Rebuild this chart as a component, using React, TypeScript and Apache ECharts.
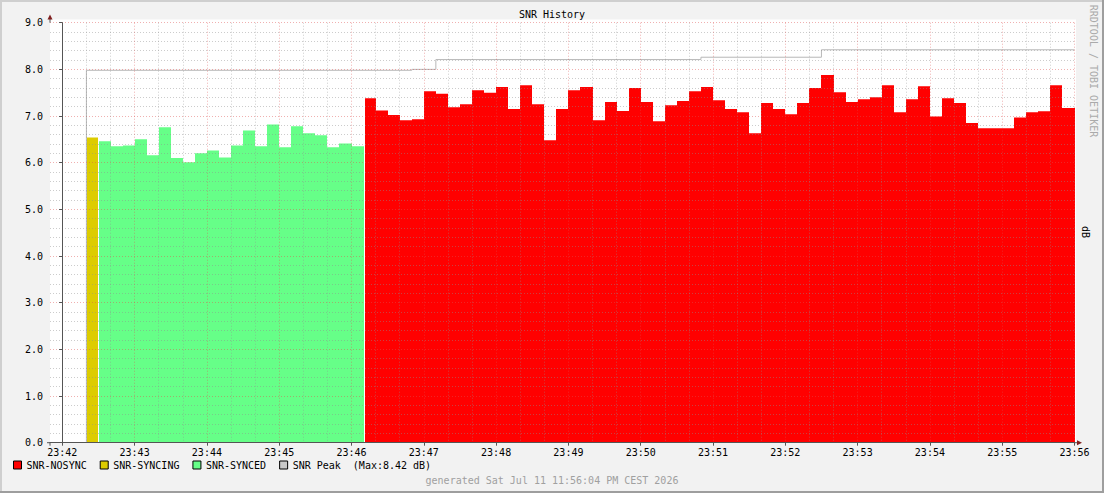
import { useEffect, useRef } from "react";
import * as echarts from "echarts";

// ---------- data ----------
const STEP = 10; // seconds per sample
const X_TICK_LABELS = [
  "23:42", "23:43", "23:44", "23:45", "23:46", "23:47", "23:48",
  "23:49", "23:50", "23:51", "23:52", "23:53", "23:54", "23:55", "23:56",
];
const Y_TICK_LABELS = ["0.0", "1.0", "2.0", "3.0", "4.0", "5.0", "6.0", "7.0", "8.0", "9.0"];

const SYNCING_START = "23:42:20";
const syncingValues = [6.54];

const SYNCED_START = "23:42:30";
const syncedValues = [
  6.46, 6.35, 6.37, 6.5, 6.16, 6.76, 6.1, 6.01, 6.2, 6.26, 6.11,
  6.37, 6.69, 6.35, 6.82, 6.33, 6.78, 6.63, 6.59, 6.33, 6.41, 6.35,
];

const NOSYNC_START = "23:46:10";
const nosyncValues = [
  7.38, 7.12, 7.02, 6.91, 6.93, 7.53, 7.48, 7.19, 7.25, 7.55,
  7.5, 7.62, 7.15, 7.66, 7.25, 6.48, 7.15, 7.55, 7.62, 6.91,
  7.3, 7.11, 7.6, 7.3, 6.89, 7.23, 7.32, 7.53, 7.62, 7.34,
  7.15, 7.08, 6.63, 7.28, 7.15, 7.04, 7.28, 7.6, 7.88, 7.51,
  7.3, 7.36, 7.4, 7.66, 7.08, 7.36, 7.64, 6.99, 7.38, 7.28,
  6.85, 6.74, 6.74, 6.74, 6.97, 7.08, 7.1, 7.66, 7.17,
];

const peakTimes = ["23:42:20", "23:46:50", "23:47:10", "23:50:50", "23:52:30", "23:56:00"];
const peakValues = [7.98, 8.0, 8.21, 8.26, 8.42, 8.42];

const GENERATED = "generated Sat Jul 11 11:56:04 PM CEST 2026";

// ---------- helpers ----------
const ORIGIN = X_TICK_LABELS[0] + ":00";
const toSec = (t: string) => {
  const p = t.split(":").map(Number);
  const o = ORIGIN.split(":").map(Number);
  return (p[0] * 3600 + p[1] * 60 + (p[2] || 0)) - (o[0] * 3600 + o[1] * 60 + (o[2] || 0));
};
const X_MAX = toSec(X_TICK_LABELS[X_TICK_LABELS.length - 1] + ":00");

const toSeries = (start: string, vals: number[]) =>
  vals.map((v, i) => [toSec(start) + i * STEP, v]);

const FONT = "DejaVu Sans Mono";
const C_NOSYNC = "#ff0000";
const C_SYNCING = "#ddcc00";
const C_SYNCED = "#66ff88";
const C_PEAK = "#b8b8b8";
const GRID_MINOR = "rgba(143,143,143,0.45)";
const GRID_MAJOR = "rgba(222,79,79,0.45)";
const AXIS = "#555";
const ARROW = "#801f1f";

const makeRender = (color: string) => (params: any, api: any) => {
  const t = api.value(0) as number;
  const v = api.value(1) as number;
  const a = api.coord([t, v]);
  const b = api.coord([t + STEP, 0]);
  const gap = params.dataIndex === 0 ? 1 : 0;
  const x0 = Math.round(a[0]) + gap;
  const x1 = Math.round(b[0]);
  return {
    type: "rect",
    shape: { x: x0, y: a[1], width: x1 - x0, height: b[1] - a[1] },
    style: { fill: color },
  };
};

export default function App() {
  const ref = useRef<HTMLDivElement>(null);

  useEffect(() => {
    if (!ref.current) return;
    const chart = echarts.init(ref.current, undefined, { renderer: "svg" });

    const PL = 50, PR = 1074.5, PT = 22.7, PB = 442.7;
    const W = 1104, H = 493;

    const peakData: number[][] = [[toSec(peakTimes[0]), 0]].concat(
      peakTimes.map((t, i) => [toSec(t), peakValues[i]])
    );
    const peakMax = Math.max(...peakValues);

    const option: any = {
      animation: false,
      backgroundColor: "#f2f2f2",
      textStyle: { fontFamily: FONT },
      title: [
        {
          text: "SNR History",
          left: "center",
          top: 9,
          padding: 0,
          textStyle: { fontFamily: FONT, fontSize: 10, fontWeight: "normal", color: "#000" },
        },
        {
          text: GENERATED,
          left: "center",
          top: 475,
          padding: 0,
          textStyle: { fontFamily: FONT, fontSize: 10, fontWeight: "normal", color: "#a0a0a0" },
        },
      ],
      legend: {
        left: 13,
        top: 460,
        padding: 0,
        itemWidth: 8,
        itemHeight: 8,
        itemGap: 13,
        selectedMode: false,
        textStyle: { fontFamily: FONT, fontSize: 10, color: "#000" },
        formatter: (name: string) =>
          name === "SNR Peak" ? name + "\u00a0\u00a0(Max:" + peakMax.toFixed(2) + " dB)" : name,
        data: [
          { name: "SNR-NOSYNC", icon: "rect", itemStyle: { color: C_NOSYNC, borderColor: "#000", borderWidth: 1 } },
          { name: "SNR-SYNCING", icon: "rect", itemStyle: { color: C_SYNCING, borderColor: "#000", borderWidth: 1 } },
          { name: "SNR-SYNCED", icon: "rect", itemStyle: { color: C_SYNCED, borderColor: "#000", borderWidth: 1 } },
          { name: "SNR Peak", icon: "rect", itemStyle: { color: "#c8c8c8", borderColor: "#000", borderWidth: 1 } },
        ],
      },
      grid: [
        { left: PL, right: W - PR, top: PT, bottom: H - PB, outerBoundsMode: "none", containLabel: false },
        { left: 62.3, right: W - PR, top: PT, bottom: H - PB, outerBoundsMode: "none", containLabel: false },
      ],
      xAxis: [
        {
          gridIndex: 0,
          type: "value",
          min: -STEP,
          max: X_MAX,
          z: 5,
          axisLine: { show: true, lineStyle: { color: AXIS, width: 1 } },
          axisTick: { show: false },
          axisLabel: { show: false },
          splitLine: { show: false },
        },
        {
          gridIndex: 1,
          type: "value",
          min: 0,
          max: X_MAX,
          interval: 60,
          z: 5,
          axisLine: { show: false },
          axisTick: { show: true, length: 3, lineStyle: { color: AXIS } },
          axisLabel: {
            show: true,
            margin: 5,
            fontFamily: FONT,
            fontSize: 10,
            color: "#000",
            showMinLabel: true,
            showMaxLabel: true,
            formatter: (v: number) => X_TICK_LABELS[Math.round(v / 60)] ?? "",
          },
          splitLine: { show: true, lineStyle: { color: GRID_MAJOR, type: [1, 2], width: 1 } },
          minorTick: { show: false, splitNumber: 3 },
          minorSplitLine: { show: true, lineStyle: { color: GRID_MINOR, type: [1, 2], width: 1 } },
        },
      ],
      yAxis: [
        {
          gridIndex: 0,
          type: "value",
          min: 0,
          max: 9,
          interval: 1,
          z: 5,
          axisLine: { show: true, lineStyle: { color: AXIS, width: 1 } },
          axisTick: { show: true, length: 3, lineStyle: { color: AXIS } },
          axisLabel: {
            show: true,
            margin: 7,
            fontFamily: FONT,
            fontSize: 10,
            color: "#000",
            showMinLabel: true,
            showMaxLabel: true,
            formatter: (v: number) => Y_TICK_LABELS[Math.round(v)] ?? "",
          },
          splitLine: { show: true, lineStyle: { color: GRID_MAJOR, type: [1, 2], width: 1 } },
          minorTick: { show: false, splitNumber: 5 },
          minorSplitLine: { show: true, lineStyle: { color: GRID_MINOR, type: [1, 2], width: 1 } },
        },
        {
          gridIndex: 1,
          type: "value",
          min: 0,
          max: 9,
          interval: 1,
          show: false,
          splitLine: { show: false },
        },
      ],
      series: [
        {
          name: "SNR-NOSYNC",
          type: "custom",
          xAxisIndex: 1,
          yAxisIndex: 1,
          z: 2,
          silent: true,
          itemStyle: { color: C_NOSYNC },
          encode: { x: 0, y: 1 },
          renderItem: makeRender(C_NOSYNC),
          data: toSeries(NOSYNC_START, nosyncValues),
        },
        {
          name: "SNR-SYNCING",
          type: "custom",
          xAxisIndex: 1,
          yAxisIndex: 1,
          z: 2,
          silent: true,
          itemStyle: { color: C_SYNCING },
          encode: { x: 0, y: 1 },
          renderItem: makeRender(C_SYNCING),
          data: toSeries(SYNCING_START, syncingValues),
        },
        {
          name: "SNR-SYNCED",
          type: "custom",
          xAxisIndex: 1,
          yAxisIndex: 1,
          z: 2,
          silent: true,
          itemStyle: { color: C_SYNCED },
          encode: { x: 0, y: 1 },
          renderItem: makeRender(C_SYNCED),
          data: toSeries(SYNCED_START, syncedValues),
        },
        {
          name: "SNR Peak",
          type: "line",
          xAxisIndex: 1,
          yAxisIndex: 1,
          step: "end",
          symbol: "none",
          silent: true,
          z: 3,
          itemStyle: { color: "#c8c8c8" },
          lineStyle: { color: C_PEAK, width: 1 },
          data: peakData,
        },
      ],
      graphic: [
        // plot canvas
        { type: "rect", z: -10, silent: true, shape: { x: PL, y: 19.5, width: PR - PL + 1.5, height: PB - 19.5 }, style: { fill: "#fff" } },
        // frame shading
        { type: "rect", silent: true, shape: { x: 0, y: 0, width: W, height: 2 }, style: { fill: "#cfcfcf" } },
        { type: "rect", silent: true, shape: { x: 0, y: 0, width: 2, height: H }, style: { fill: "#cfcfcf" } },
        { type: "rect", silent: true, shape: { x: 0, y: H - 2, width: W, height: 2 }, style: { fill: "#9e9e9e" } },
        { type: "rect", silent: true, shape: { x: W - 2, y: 0, width: 2, height: H }, style: { fill: "#9e9e9e" } },
        // axis extensions and arrows
        { type: "line", silent: true, z: 10, shape: { x1: PL, y1: PT, x2: PL, y2: 17 }, style: { stroke: AXIS, lineWidth: 1 } },
        { type: "line", silent: true, z: 10, shape: { x1: PL, y1: PB, x2: PL, y2: PB + 3 }, style: { stroke: AXIS, lineWidth: 1 } },
        { type: "line", silent: true, z: 10, shape: { x1: 47, y1: PB, x2: PL, y2: PB }, style: { stroke: AXIS, lineWidth: 1 } },
        { type: "line", silent: true, z: 10, shape: { x1: PR, y1: PB, x2: PR + 4, y2: PB }, style: { stroke: AXIS, lineWidth: 1 } },
        { type: "polygon", silent: true, z: 10, shape: { points: [[47.5, 19.5], [52.5, 19.5], [50, 14.5]] }, style: { fill: ARROW } },
        { type: "polygon", silent: true, z: 10, shape: { points: [[1077, 440.2], [1077, 445.2], [1082, 442.7]] }, style: { fill: ARROW } },
        // right side vertical texts
        {
          type: "text", silent: true, x: 1085, y: 232, rotation: -Math.PI / 2,
          style: { text: "dB", font: `10px "${FONT}"`, fill: "#000", align: "center", verticalAlign: "middle" },
        },
        {
          type: "text", silent: true, x: 1093, y: 71, rotation: -Math.PI / 2,
          style: { text: "RRDTOOL / TOBI OETIKER", font: `10px "${FONT}"`, fill: "#aaaaaa", align: "center", verticalAlign: "middle" },
        },
      ],
    };

    chart.setOption(option);
    return () => chart.dispose();
  }, []);

  return (
    <div
      ref={ref}
      style={{ position: "fixed", left: 0, top: 0, width: 1104, height: 493 }}
    />
  );
}
